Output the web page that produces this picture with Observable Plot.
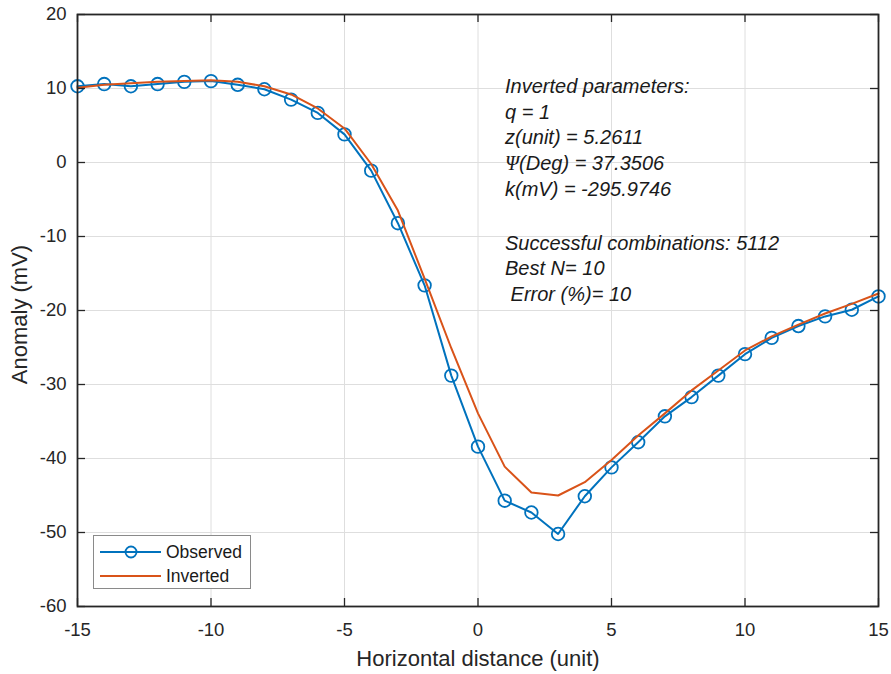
<!DOCTYPE html>
<html>
<head>
<meta charset="utf-8">
<script src="https://cdn.jsdelivr.net/npm/d3@7"></script>
<script src="https://cdn.jsdelivr.net/npm/@observablehq/plot@0.6"></script>
<style>
  html, body { margin: 0; padding: 0; background: #fff; }
  #wrap { position: relative; width: 891px; height: 674px; font-family: "Liberation Sans", Arial, sans-serif; color: #262626; }
  #note { position: absolute; left: 505px; top: 74px; font-size: 20px; font-style: italic; line-height: 25.7px; color: #1a1a1a; white-space: pre; }
  #note .gap { height: 28px; }
  #note .psi { font-family: "Liberation Serif", "Times New Roman", serif; }
  #legend { position: absolute; left: 93px; top: 535px; width: 158px; height: 54px; border: 1px solid #8a8a8a; background: #fff; box-sizing: border-box; font-size: 17.5px; color: #1a1a1a; }
  #legend .row { position: absolute; left: 0; height: 24px; display: flex; align-items: center; }
  #legend svg { display: block; }
</style>
</head>
<body>
<div id="wrap"></div>
<script>
const xValues = [-15,-14,-13,-12,-11,-10,-9,-8,-7,-6,-5,-4,-3,-2,-1,0,1,2,3,4,5,6,7,8,9,10,11,12,13,14,15];
const observed = [10.3,10.6,10.3,10.6,10.9,11.0,10.5,9.9,8.5,6.7,3.8,-1.1,-8.2,-16.6,-28.8,-38.4,-45.7,-47.3,-50.2,-45.1,-41.2,-37.8,-34.3,-31.7,-28.8,-25.9,-23.7,-22.1,-20.8,-19.9,-18.1];
const inverted = [10.1,10.5,10.7,10.9,11.0,11.1,10.9,10.3,9.2,7.3,4.6,-0.2,-6.5,-15.7,-25.1,-33.9,-41.1,-44.6,-45.0,-43.2,-40.2,-36.9,-33.9,-30.8,-28.1,-25.4,-23.5,-21.9,-20.4,-19.1,-17.7];
const xTicks = [-15,-10,-5,0,5,10,15];
const yTicks = [-60,-50,-40,-30,-20,-10,0,10,20];
const seriesNames = ["Observed", "Inverted"];
const seriesColors = ["#0072BD", "#D95319"];
const xTitle = "Horizontal distance (unit)";
const yTitle = "Anomaly (mV)";
const noteLines = ["Inverted parameters:", "q = 1", "z(unit) = 5.2611", "Ψ(Deg) = 37.3506", "k(mV) = -295.9746", "", "Successful combinations: 5112", "Best N= 10", " Error (%)= 10"];

const data = xValues.map((x, i) => ({x, obs: observed[i], inv: inverted[i]}));
const W = 891, H = 674, mL = 77, mR = 13, mT = 14, mB = 68;
const innerW = W - mL - mR, innerH = H - mT - mB;
const tick = 8;
const ink = "#262626";

const chart = Plot.plot({
  width: W, height: H,
  marginLeft: mL, marginRight: mR, marginTop: mT, marginBottom: mB,
  style: {fontFamily: "'Liberation Sans', Arial, sans-serif", fontSize: "18px", color: ink, background: "#fff"},
  x: {domain: [-15, 15]},
  y: {domain: [-60, 20]},
  marks: [
    Plot.gridX(xTicks, {stroke: "#dedede", strokeOpacity: 1}),
    Plot.gridY(yTicks, {stroke: "#dedede", strokeOpacity: 1}),
    Plot.line(data, {x: "x", y: "obs", stroke: seriesColors[0], strokeWidth: 2}),
    Plot.dot(data, {x: "x", y: "obs", r: 6.3, stroke: seriesColors[0], strokeWidth: 1.8, fill: "none"}),
    Plot.line(data, {x: "x", y: "inv", stroke: seriesColors[1], strokeWidth: 2}),
    Plot.ruleX(xTicks, {x: d => d, insetTop: innerH - tick, stroke: ink, strokeWidth: 1.3}),
    Plot.ruleX(xTicks, {x: d => d, insetBottom: innerH - tick, stroke: ink, strokeWidth: 1.3}),
    Plot.ruleY(yTicks, {y: d => d, insetRight: innerW - tick, stroke: ink, strokeWidth: 1.3}),
    Plot.ruleY(yTicks, {y: d => d, insetLeft: innerW - tick, stroke: ink, strokeWidth: 1.3}),
    Plot.frame({stroke: ink, strokeWidth: 1.8}),
    Plot.axisX(xTicks, {anchor: "bottom", tickSize: 0, tickPadding: 16, label: null, fontSize: 18.5, tickFormat: d => String(d)}),
    Plot.axisY(yTicks, {anchor: "left", tickSize: 0, tickPadding: 11, label: null, fontSize: 18.5, tickFormat: d => String(d)}),
    Plot.text([xTitle], {frameAnchor: "bottom", dy: 52, fontSize: 22, lineAnchor: "middle", textAnchor: "middle", fill: ink}),
    Plot.text([yTitle], {frameAnchor: "left", dx: -58, dy: 4, rotate: -90, fontSize: 22, lineAnchor: "middle", textAnchor: "middle", fill: ink})
  ]
});

const wrap = document.getElementById("wrap");
wrap.appendChild(chart);

// annotation
const note = document.createElement("div");
note.id = "note";
noteLines.forEach(t => {
  const d = document.createElement("div");
  if (t === "") { d.className = "gap"; }
  else if (t.startsWith("Ψ")) {
    const s = document.createElement("span"); s.className = "psi"; s.textContent = "Ψ";
    d.appendChild(s); d.appendChild(document.createTextNode(t.slice(1)));
  } else d.textContent = t;
  note.appendChild(d);
});
wrap.appendChild(note);

// legend
const legend = document.createElement("div");
legend.id = "legend";
seriesNames.forEach((name, i) => {
  const row = document.createElement("div");
  row.className = "row";
  row.style.top = (4 + i * 24) + "px";
  const ns = "http://www.w3.org/2000/svg";
  const svg = document.createElementNS(ns, "svg");
  svg.setAttribute("width", 72); svg.setAttribute("height", 24);
  const ln = document.createElementNS(ns, "line");
  ln.setAttribute("x1", 6); ln.setAttribute("x2", 67); ln.setAttribute("y1", 12); ln.setAttribute("y2", 12);
  ln.setAttribute("stroke", seriesColors[i]); ln.setAttribute("stroke-width", 2);
  svg.appendChild(ln);
  if (i === 0) {
    const c = document.createElementNS(ns, "circle");
    c.setAttribute("cx", 37); c.setAttribute("cy", 12); c.setAttribute("r", 5.5);
    c.setAttribute("fill", "none"); c.setAttribute("stroke", seriesColors[i]); c.setAttribute("stroke-width", 1.8);
    svg.appendChild(c);
  }
  row.appendChild(svg);
  const lab = document.createElement("span");
  lab.textContent = name;
  row.appendChild(lab);
  legend.appendChild(row);
});
wrap.appendChild(legend);
</script>
</body>
</html>
